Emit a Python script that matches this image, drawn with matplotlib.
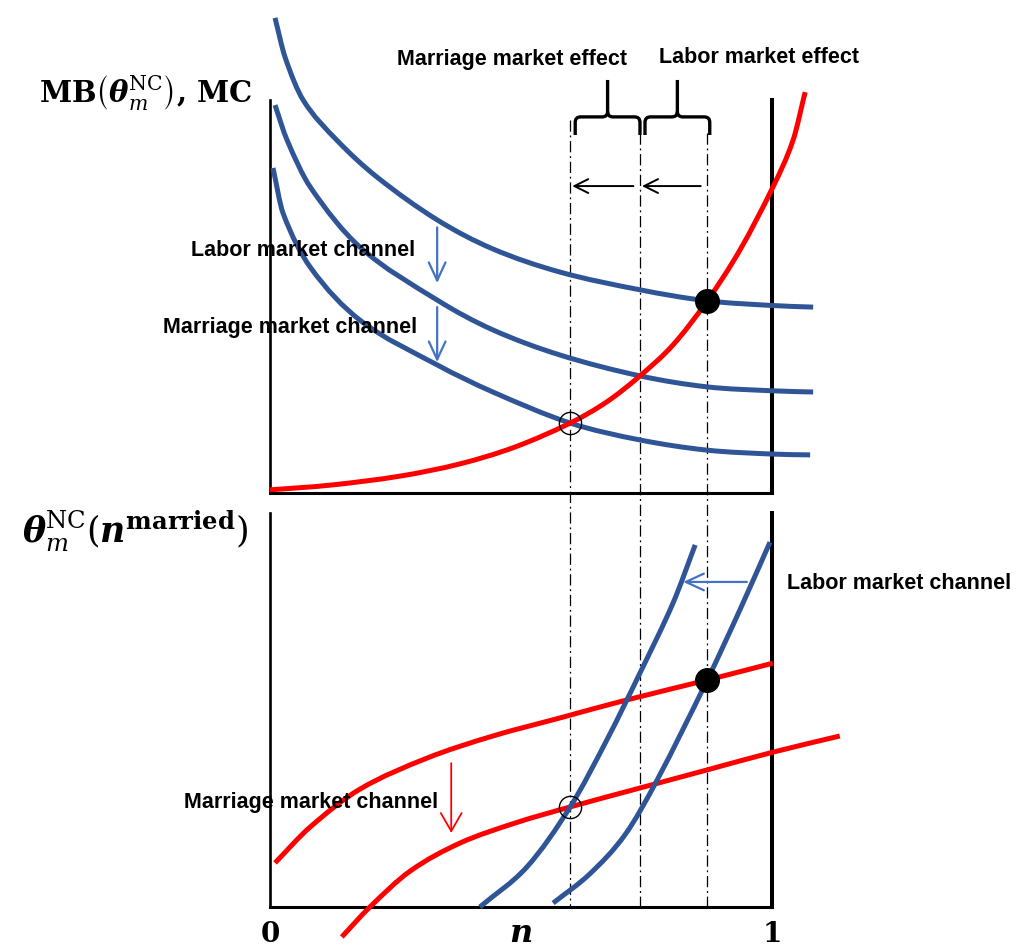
import matplotlib
matplotlib.use("Agg")
import matplotlib.pyplot as plt
from matplotlib.path import Path
from matplotlib.patches import PathPatch
import numpy as np

plt.rcParams['mathtext.fontset'] = 'dejavuserif'

# ---------------- data (n on x, value on y; each panel scaled 0..1) ----------------
# upper panel: marginal benefit curves (blue) and marginal cost curve (red)
mb_high_n = [0.010, 0.030, 0.066, 0.133, 0.213, 0.333, 0.444, 0.578, 0.737, 0.871, 1.002, 1.082]
mb_high_v = [1.209, 1.109, 1.000, 0.898, 0.804, 0.695, 0.621, 0.562, 0.517, 0.489, 0.477, 0.473]
mb_mid_n = [0.010, 0.034, 0.080, 0.179, 0.333, 0.444, 0.578, 0.737, 0.871, 1.002, 1.082]
mb_mid_v = [0.987, 0.898, 0.779, 0.626, 0.491, 0.415, 0.351, 0.298, 0.270, 0.260, 0.257]
mb_low_n = [0.006, 0.026, 0.080, 0.179, 0.333, 0.444, 0.598, 0.737, 0.871, 1.002, 1.076]
mb_low_v = [0.827, 0.712, 0.575, 0.440, 0.326, 0.257, 0.178, 0.135, 0.109, 0.099, 0.097]
mc_n = [0.000, 0.120, 0.259, 0.378, 0.488, 0.598, 0.671, 0.737, 0.803, 0.871, 0.936, 1.002, 1.042, 1.066]
mc_v = [0.008, 0.020, 0.043, 0.074, 0.117, 0.178, 0.232, 0.298, 0.377, 0.489, 0.618, 0.779, 0.898, 1.020]

# lower panel: theta(n) curves (red) and inverse curves (blue)
theta_high_n = [0.010, 0.080, 0.179, 0.313, 0.444, 0.578, 0.703, 0.871, 1.002]
theta_high_v = [0.112, 0.203, 0.299, 0.378, 0.434, 0.480, 0.523, 0.576, 0.619]
theta_low_n = [0.143, 0.199, 0.279, 0.378, 0.488, 0.598, 0.737, 0.871, 1.002, 1.135]
theta_low_v = [-0.076, 0.000, 0.091, 0.162, 0.213, 0.254, 0.302, 0.348, 0.393, 0.434]
inv_left_n = [0.418, 0.512, 0.598, 0.671, 0.737, 0.803, 0.847]
inv_left_v = [0.000, 0.102, 0.254, 0.424, 0.594, 0.772, 0.919]
inv_right_n = [0.564, 0.637, 0.707, 0.771, 0.871, 0.936, 0.996]
inv_right_v = [0.010, 0.084, 0.183, 0.322, 0.576, 0.754, 0.926]

# equilibria: new (open), intermediate, old (filled)
eq_n = [0.598, 0.737, 0.871]
eq_top_v = [0.178, 0.298, 0.489]
eq_bot_v = [0.254, 0.0, 0.576]

channel_labels = ["Labor market channel", "Marriage market channel"]
effect_labels = ["Marriage market effect", "Labor market effect"]
tick_labels = ["0", "1"]

BLUE = "#2F5597"
RED = "#FF0000"
ARROW_BLUE = "#4472C4"

W, H = 1019, 950
fig = plt.figure(figsize=(W / 100, H / 100), dpi=100)
ax_top = fig.add_axes([270 / W, 1 - 493 / H, 502 / W, 393 / H])
ax_bot = fig.add_axes([270 / W, 1 - 907 / H, 502 / W, 394 / H])

for ax in (ax_top, ax_bot):
    ax.set_xlim(0, 1)
    ax.set_ylim(0, 1)
    ax.set_facecolor("none")
    ax.spines["top"].set_visible(False)
    ax.spines["left"].set_linewidth(1.9)
    ax.spines["bottom"].set_linewidth(2.2)
    ax.spines["right"].set_linewidth(2.9)
    ax.set_yticks([])
ax_top.set_xticks([])
ax_bot.set_xticks([0, 1])
ax_bot.set_xticklabels(tick_labels, fontsize=20, fontweight="bold", family="DejaVu Serif")
ax_bot.tick_params(axis="x", length=0, pad=10)


def smooth(ax, xs, ys, color, lw=3.6, z=3):
    """Smooth curve through the points (x-parameterised cubic Hermite as Bezier)."""
    x = np.asarray(xs, float)
    y = np.asarray(ys, float)
    k = len(x)
    m = np.empty(k)
    m[0] = (y[1] - y[0]) / (x[1] - x[0])
    m[-1] = (y[-1] - y[-2]) / (x[-1] - x[-2])
    for i in range(1, k - 1):
        m[i] = (y[i + 1] - y[i - 1]) / (x[i + 1] - x[i - 1])
    verts = [(x[0], y[0])]
    codes = [Path.MOVETO]
    for i in range(k - 1):
        dx = x[i + 1] - x[i]
        verts += [(x[i] + dx / 3, y[i] + m[i] * dx / 3),
                  (x[i + 1] - dx / 3, y[i + 1] - m[i + 1] * dx / 3),
                  (x[i + 1], y[i + 1])]
        codes += [Path.CURVE4] * 3
    ax.add_patch(PathPatch(Path(verts, codes), fill=False, edgecolor=color, lw=lw,
                           clip_on=False, zorder=z, capstyle="butt"))


smooth(ax_top, mb_high_n, mb_high_v, BLUE)
smooth(ax_top, mb_mid_n, mb_mid_v, BLUE)
smooth(ax_top, mb_low_n, mb_low_v, BLUE)
smooth(ax_top, mc_n, mc_v, RED, z=4)

smooth(ax_bot, theta_high_n, theta_high_v, RED)
smooth(ax_bot, theta_low_n, theta_low_v, RED)
smooth(ax_bot, inv_left_n, inv_left_v, BLUE, z=4)
smooth(ax_bot, inv_right_n, inv_right_v, BLUE, z=4)

# vertical dash-dot guides
y_low = ax_top.transData.inverted().transform(ax_bot.transData.transform((0, 0)))[1]
line_tops = [0.949, 0.916, 0.916]
for n, vt in zip(eq_n, line_tops):
    ax_top.plot([n, n], [vt, y_low], color="black", lw=0.9, ls=(0, (9, 3, 1.5, 3)),
                clip_on=False, zorder=2)

# equilibrium markers
for ax, vs in ((ax_top, eq_top_v), (ax_bot, eq_bot_v)):
    ax.plot(eq_n[0], vs[0], "o", ms=16, mfc="none", mec="black", mew=1.0, clip_on=False, zorder=6)
    ax.plot(eq_n[2], vs[2], "o", ms=17, color="black", clip_on=False, zorder=6)


# braces
def brace(ax, x0, x1, ybot, ytop, ytip, rx=0.011, ry=0.014):
    xc = (x0 + x1) / 2
    verts = [(x0, ybot), (x0, ytop - ry), (x0, ytop), (x0 + rx, ytop), (xc - rx, ytop),
             (xc, ytop), (xc, ytop + ry), (xc, ytip),
             (xc, ytop + ry), (xc, ytop), (xc + rx, ytop), (x1 - rx, ytop),
             (x1, ytop), (x1, ytop - ry), (x1, ybot)]
    codes = [Path.MOVETO, Path.LINETO, Path.CURVE3, Path.CURVE3, Path.LINETO,
             Path.CURVE3, Path.CURVE3, Path.LINETO,
             Path.MOVETO, Path.CURVE3, Path.CURVE3, Path.LINETO,
             Path.CURVE3, Path.CURVE3, Path.LINETO]
    ax.add_patch(PathPatch(Path(verts, codes), fill=False, edgecolor="black", lw=2.4,
                           clip_on=False, zorder=5))


brace(ax_top, eq_n[0] + 0.010, eq_n[1], 0.911, 0.957, 1.051)
brace(ax_top, eq_n[1] + 0.010, eq_n[2] + 0.005, 0.911, 0.957, 1.051)

# effect arrows (black)
for i in range(2):
    ax_top.annotate("", xy=(eq_n[i] + 0.004, 0.781), xytext=(eq_n[i + 1] - 0.013, 0.781),
                    arrowprops=dict(arrowstyle="->,head_length=1.0,head_width=0.5", lw=1.4,
                                    color="black", shrinkA=0, shrinkB=0),
                    annotation_clip=False)

# channel arrows
head = "->,head_length=1.3,head_width=0.6"
ax_top.annotate("", xy=(0.333, 0.534), xytext=(0.333, 0.676),
                arrowprops=dict(arrowstyle=head, lw=1.6, color=ARROW_BLUE, shrinkA=0, shrinkB=0),
                annotation_clip=False)
ax_top.annotate("", xy=(0.333, 0.333), xytext=(0.333, 0.473),
                arrowprops=dict(arrowstyle=head, lw=1.6, color=ARROW_BLUE, shrinkA=0, shrinkB=0),
                annotation_clip=False)
ax_bot.annotate("", xy=(0.823, 0.825), xytext=(0.950, 0.825),
                arrowprops=dict(arrowstyle=head, lw=1.6, color=ARROW_BLUE, shrinkA=0, shrinkB=0),
                annotation_clip=False)
ax_bot.annotate("", xy=(0.361, 0.188), xytext=(0.361, 0.365),
                arrowprops=dict(arrowstyle="->,head_length=1.3,head_width=0.75", lw=1.3, color=RED,
                                shrinkA=0, shrinkB=0),
                annotation_clip=False)

# labels
lab = dict(fontsize=15.5, fontweight="bold", family="Liberation Sans", color="black", zorder=7)
ax_top.text(0.066, 0.618, channel_labels[0], ha="center", va="center", **lab)
ax_top.text(0.040, 0.422, channel_labels[1], ha="center", va="center", **lab)
ax_bot.text(1.030, 0.822, channel_labels[0], ha="left", va="center", **lab)
ax_bot.text(0.082, 0.266, channel_labels[1], ha="center", va="center", **lab)
ax_top.text(0.482, 1.104, effect_labels[0], ha="center", va="center", **lab)
ax_top.text(0.974, 1.107, effect_labels[1], ha="center", va="center", **lab)

fig.text(146 / W, 1 - 93 / H,
         r"$\mathbf{MB}\left(\mathbfit{\theta}_{m}^{\mathrm{NC}}\right)\mathbf{,\,MC}$",
         fontsize=21, ha="center", va="center")
fig.text(135 / W, 1 - 531 / H,
         r"$\mathbfit{\theta}_{m}^{\mathrm{NC}}\left(\mathbfit{n}^{\mathbf{married}}\right)$",
         fontsize=25, ha="center", va="center")
ax_bot.text(0.5, -0.068, r"$\mathbfit{n}$", fontsize=23, ha="center", va="center")

fig.savefig("out.png", dpi=100)
